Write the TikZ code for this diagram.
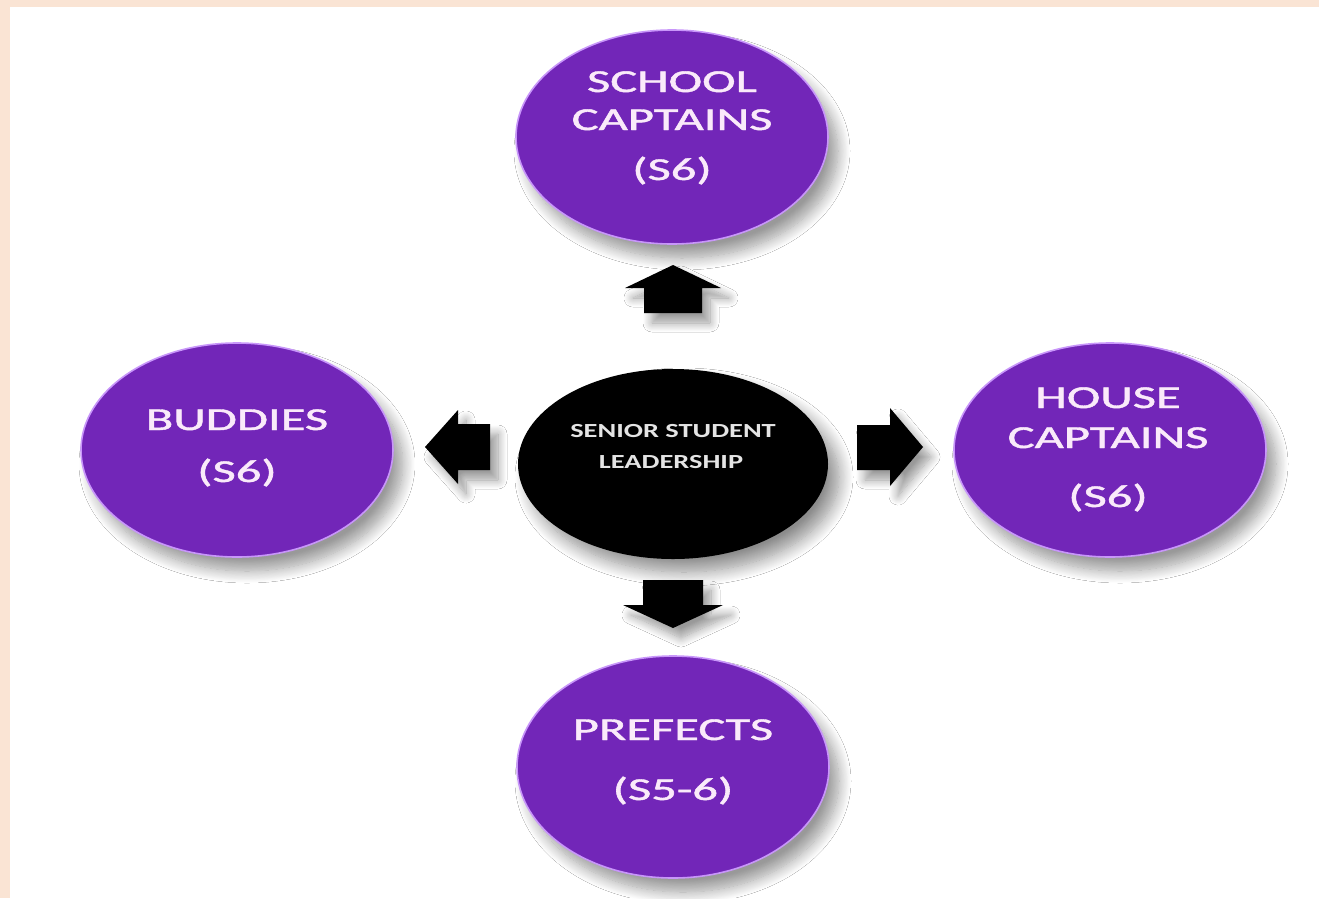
\documentclass[tikz,border=0pt]{standalone}
\usepackage{fontspec}
\setmainfont{Carlito}
\newfontfamily\lblfont[FakeBold=1.2]{Carlito}
\usetikzlibrary{shapes.geometric,shadows.blur}
\definecolor{peach}{RGB}{250,228,212}
\definecolor{pin}{RGB}{114,38,184}
\definecolor{pout}{RGB}{136,56,220}
\definecolor{prim}{RGB}{200,150,250}
\definecolor{ptext}{RGB}{250,234,250}
\definecolor{ctext}{RGB}{228,228,228}
\pgfdeclareradialshading{purpshade}{\pgfpoint{0bp}{0bp}}{color(0bp)=(pin); color(38bp)=(pin); color(48bp)=(pout); color(50bp)=(pout)}
\newcommand{\wx}[1]{\scalebox{1.58}[1]{#1}}
\newcommand{\wc}[1]{\scalebox{1.42}[1]{#1}}
\tikzset{
  bubble/.style={ellipse, minimum width=312pt, minimum height=214pt, inner sep=0pt,
    shade, shading=purpshade, draw=prim, line width=1.6pt,
    blur shadow={shadow xshift=10pt, shadow yshift=-14pt, shadow blur radius=12pt,
      shadow blur steps=16, shadow opacity=40}},
  core/.style={ellipse, minimum width=310pt, minimum height=190pt, inner sep=0pt, fill=black,
    blur shadow={shadow xshift=11pt, shadow yshift=-13pt, shadow blur radius=14pt,
      shadow blur steps=16, shadow opacity=45}},
  lbl/.style={text=ptext, font=\lblfont\fontsize{32}{38}\selectfont, anchor=base, inner sep=0pt},
  clbl/.style={text=ctext, font=\fontsize{20}{24}\selectfont\bfseries, anchor=base, inner sep=0pt},
  barrow/.style={fill=black,
    blur shadow={shadow xshift=8pt, shadow yshift=-10pt, shadow blur radius=9pt,
      shadow blur steps=12, shadow opacity=40}}
}
\begin{document}
\begin{tikzpicture}[x=1pt,y=-1pt]
\useasboundingbox (0,0) rectangle (1319,898);
\fill[peach] (0,0) rectangle (1319,898);
\fill[white] (10,7) rectangle (1319,898);

% nodes
\node[core] (ssl) at (673,464) {};
\node[bubble] (sc) at (672,137) {};
\node[bubble] (bd) at (237,450) {};
\node[bubble] (hc) at (1110,450) {};
\node[bubble, minimum height=222pt] (pf) at (673,767) {};

% labels
\node[lbl] (sc1) at ([yshift=45pt]sc.center) {\wx{SCHOOL}};
\node[lbl] (sc2) at ([yshift=7pt]sc.center) {\wx{CAPTAINS}};
\node[lbl] (sc3) at ([yshift=-43pt]sc.center) {\wx{(S6)}};

\node[lbl] (bd1) at ([yshift=20pt]bd.center) {\wx{BUDDIES}};
\node[lbl] (bd2) at ([yshift=-32pt]bd.center) {\wx{(S6)}};

\node[lbl] (hc1) at ([xshift=-2pt,yshift=42pt]hc.center) {\wx{HOUSE}};
\node[lbl] (hc2) at ([xshift=-2pt,yshift=2pt]hc.center) {\wx{CAPTAINS}};
\node[lbl] (hc3) at ([xshift=-2pt,yshift=-57pt]hc.center) {\wx{(S6)}};

\node[lbl] (pf1) at ([yshift=27pt]pf.center) {\wx{PREFECTS}};
\node[lbl] (pf2) at ([yshift=-33pt]pf.center) {\wx{(S5-6)}};

\node[clbl] (ssl1) at ([yshift=27pt]ssl.center) {\wc{SENIOR STUDENT}};
\node[clbl] (ssl2) at ([xshift=-2pt,yshift=-4pt]ssl.center) {\wc{LEADERSHIP}};

% block arrows
\fill[barrow] (644,313) -- (644,288) -- (625,288) -- (673,265) -- (721,288) -- (702,288) -- (702,313) -- cycle;
\fill[barrow] (643,580) -- (643,605) -- (623,605) -- (673,628) -- (723,605) -- (703,605) -- (703,580) -- cycle;
\fill[barrow] (857,425) -- (890,425) -- (890,408) -- (923,447) -- (890,486) -- (890,470) -- (857,470) -- cycle;
\fill[barrow] (490,424) -- (458,424) -- (458,410) -- (425,447) -- (458,484) -- (458,470) -- (490,470) -- cycle;
\end{tikzpicture}
\end{document}
